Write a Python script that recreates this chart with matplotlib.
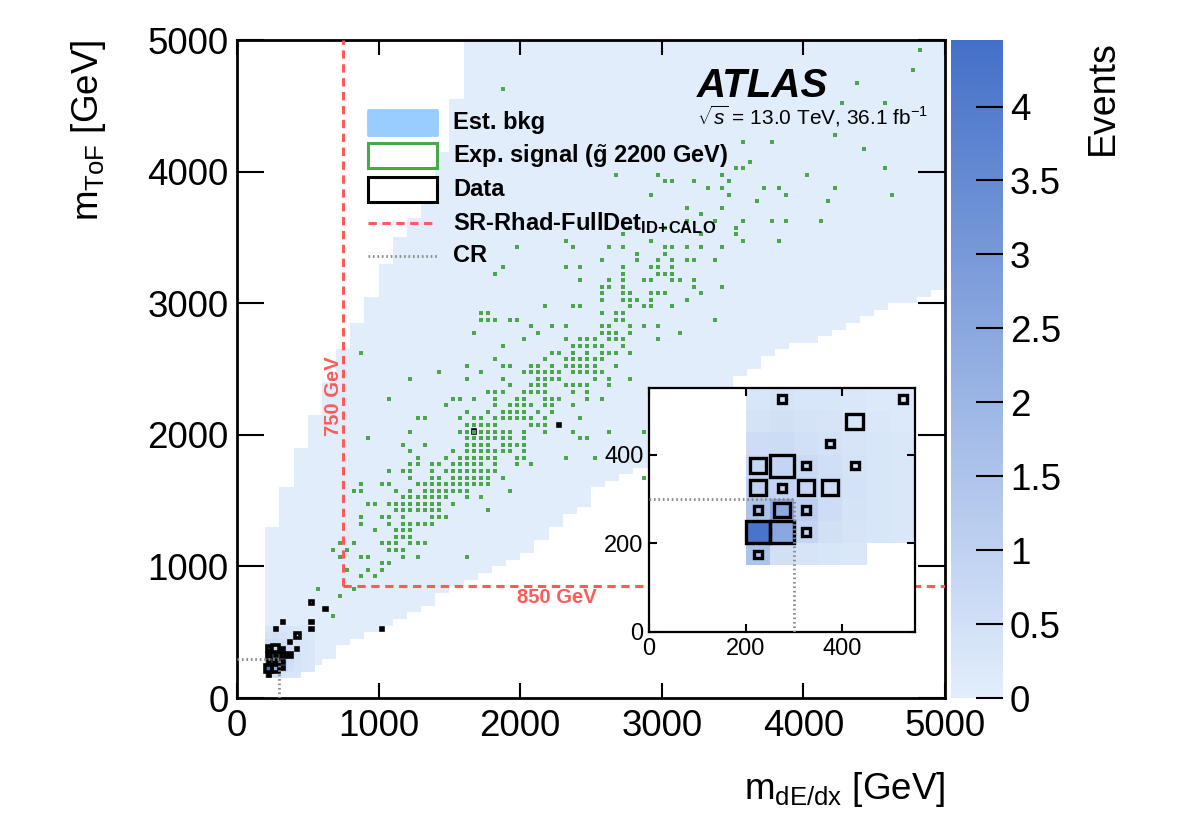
import numpy as np
import matplotlib

matplotlib.use("Agg")
import matplotlib.pyplot as plt
from matplotlib.collections import PatchCollection
from matplotlib.colors import LinearSegmentedColormap
from matplotlib.patches import Rectangle
from matplotlib.ticker import FormatStrFormatter

plt.rcParams["font.family"] = ["Liberation Sans", "DejaVu Sans"]
plt.rcParams["mathtext.fontset"] = "custom"
plt.rcParams["mathtext.rm"] = "Liberation Sans"
plt.rcParams["mathtext.it"] = "Liberation Sans:italic"
plt.rcParams["mathtext.bf"] = "Liberation Sans:bold"
plt.rcParams["lines.scale_dashes"] = False

BIN = 50.0  # GeV, histogram bin width on both axes
NBINS = 100
ZMAX = 4.45

# estimated background envelope, one entry per 100 GeV column of m_dE/dx
bkg_low = [0, 0, 150, 150, 150, 250, 300, 400, 450, 500,
           550, 600, 650, 700, 800, 850, 900, 950, 1000, 1050,
           1100, 1200, 1300, 1400, 1450, 1600, 1650, 1700, 1750, 1950,
           2050, 2150, 2250, 2300, 2350, 2450, 2500, 2600, 2650, 2700,
           2700, 2750, 2800, 2850, 2900, 2950, 3000, 3000, 3050, 3100]
bkg_high = [0, 0, 1300, 1600, 1900, 2150, 2400, 2650, 2850, 3050,
            3300, 3500, 3650, 3850, 4150, 4550, 5000, 5000, 5000, 5000,
            5000, 5000, 5000, 5000, 5000, 5000, 5000, 5000, 5000, 5000,
            5000, 5000, 5000, 5000, 5000, 5000, 5000, 5000, 5000, 5000,
            5000, 5000, 5000, 5000, 5000, 5000, 5000, 5000, 5000, 5000]
bkg_level = 0.05

# low-mass corner of the background (events per bin), x = 200..550, y = 150..550
core_x0 = 200
core_y0 = 150
nan = np.nan
bkg_core = [
    [1.5, 0.5, 0.35, 0.3, 0.25, nan, nan],
    [4.3, 2.5, 0.9, 0.5, 0.35, 0.3, 0.25],
    [1.5, 2.4, 1.1, 0.6, 0.4, 0.3, 0.25],
    [1.0, 0.9, 0.8, 0.6, 0.45, 0.3, 0.25],
    [0.8, 0.9, 0.7, 0.55, 0.4, 0.3, 0.25],
    [0.6, 0.65, 0.5, 0.45, 0.35, 0.3, 0.25],
    [0.4, 0.5, 0.4, 0.35, 0.3, 0.25, 0.2],
    [0.3, 0.4, 0.3, 0.3, 0.25, 0.2, 0.2],
]

# observed data, bin centres (GeV) and counts
data_x = [225, 225, 275, 325, 225, 275, 325, 225, 275, 325, 375, 225, 275,
          325, 425, 375, 425, 275, 525, 325, 525, 625, 525, 1025, 1675, 2275]
data_y = [175, 225, 225, 225, 275, 275, 275, 325, 325, 325, 325, 375, 375,
          375, 375, 425, 475, 525, 525, 575, 575, 675, 725, 525, 2025, 2075]
data_n = [1, 3, 3, 1, 1, 2, 1, 2, 1, 2, 2, 2, 3,
          1, 1, 1, 2, 1, 1, 1, 1, 1, 1, 1, 1, 1]

# expected signal: y-bin index -> x-bin indices of filled bins
signal_rows = {
    12: [13], 15: [14], 16: [11, 16], 18: [17, 19], 19: [15, 18, 20],
    20: [20, 21], 21: [14, 17, 18, 23, 25, 32], 22: [13, 15, 21, 22, 23],
    23: [14, 16, 20, 21, 22, 24, 25, 26], 24: [22, 23, 24], 25: [19, 22, 23, 24],
    26: [17, 21, 23, 24, 25, 26, 27], 27: [17, 20, 21, 23, 27, 28, 29],
    28: [22, 23, 24, 25, 26, 27, 28, 35],
    29: [18, 19, 21, 22, 23, 24, 25, 26, 27, 28, 30],
    30: [23, 24, 25, 26, 27, 28, 29, 32, 34],
    31: [16, 17, 22, 24, 26, 27, 28, 29, 30, 31, 32, 38],
    32: [17, 20, 21, 25, 26, 27, 28, 29, 30, 31, 32, 33, 34, 35],
    33: [24, 27, 28, 30, 31, 32, 33, 34, 35, 37, 57],
    34: [21, 23, 24, 27, 29, 30, 31, 32, 33, 34, 35, 36],
    35: [24, 25, 27, 28, 30, 31, 32, 33, 34, 36, 39, 41],
    36: [25, 29, 31, 32, 33, 34, 35, 36, 39, 40, 46, 50],
    37: [24, 30, 32, 33, 34, 35, 36, 37, 38, 40],
    38: [23, 26, 32, 33, 34, 35, 37, 38, 39, 40],
    39: [18, 32, 33, 34, 35, 36, 37, 38, 40, 48, 49],
    40: [24, 31, 32, 33, 34, 35, 36, 37, 38, 40, 43, 47, 52, 57],
    41: [32, 33, 34, 35, 36, 41, 42, 43],
    42: [25, 26, 31, 33, 34, 36, 37, 38, 39, 40, 41, 43, 48],
    43: [32, 35, 37, 38, 39, 40, 42, 44],
    44: [29, 36, 38, 39, 40, 41, 43, 44, 47],
    45: [21, 30, 31, 33, 36, 39, 40, 43, 44, 45, 49, 51],
    46: [35, 36, 37, 40, 41, 42, 43, 47, 49],
    47: [38, 41, 42, 43, 46, 47, 48, 49, 52],
    48: [24, 32, 37, 42, 43, 44, 45, 50, 52, 55],
    49: [28, 34, 40, 41, 42, 43, 44, 45, 47, 48, 49, 50, 51],
    50: [32, 37, 38, 41, 42, 44, 46, 47, 48, 49, 50, 53],
    51: [36, 43, 46, 47, 48, 49, 50, 51],
    52: [17, 44, 45, 47, 49, 51, 52, 53, 55],
    53: [37, 47, 48, 49, 50, 51, 54],
    54: [40, 46, 48, 49, 50, 52, 53, 54, 59],
    55: [33, 42, 51, 52, 53, 55, 62],
    56: [41, 44, 46, 51, 52, 55, 57, 59],
    57: [34, 35, 36, 38, 39, 53, 54, 67],
    58: [34, 35, 51, 53, 54],
    59: [43, 47, 48, 55, 57, 58, 61],
    60: [51, 54, 55, 56, 58, 63],
    61: [51, 54, 55, 58, 59, 60, 65],
    62: [51, 52, 54, 64, 68],
    63: [48, 52, 54, 57, 58, 61, 62, 64],
    64: [36, 54, 59, 60, 61],
    65: [37, 46, 48, 54, 58, 59, 61],
    66: [51, 56, 59, 61, 63, 64, 67],
    67: [56, 60],
    68: [39, 47, 52, 54, 60, 61, 63, 65, 68],
    69: [46, 58, 71, 76],
    70: [54, 65, 70],
    71: [55, 60, 70],
    72: [63, 67, 71, 75, 77, 82],
    73: [65], 74: [63, 68], 75: [73, 83], 76: [58, 69, 77, 92],
    77: [66, 68, 74, 76, 84], 78: [60, 61, 64, 69], 79: [53, 59, 68, 80],
    80: [70, 71, 91], 81: [72], 83: [88], 84: [71, 75], 85: [84],
    90: [85, 91], 92: [37], 93: [87], 95: [95], 98: [96],
}

sr_x_min = 750   # GeV
sr_y_min = 850   # GeV
cr_max = 300     # GeV

legend_labels = ["Est. bkg", r"Exp. signal ($\tilde{\mathbf{g}}$ 2200 GeV)", "Data",
                 r"SR-Rhad-FullDet$_{\mathbf{ID\!+\!CALO}}$", "CR"]

RED = "#ff5a5a"
GREEN = "#4ca64c"
GREY = "#8a8a8a"
cmap = LinearSegmentedColormap.from_list("bkg", ["#e3eefc", "#4470c8"])


def build_grid():
    z = np.full((NBINS, NBINS), np.nan)
    for c, (lo, hi) in enumerate(zip(bkg_low, bkg_high)):
        if hi <= lo:
            continue
        z[int(lo // BIN):int(hi // BIN), 2 * c:2 * c + 2] = bkg_level
    core = np.array(bkg_core, dtype=float)
    j0, k0 = int(core_y0 // BIN), int(core_x0 // BIN)
    z[j0:j0 + core.shape[0], k0:k0 + core.shape[1]] = core
    return np.ma.masked_invalid(z)


def data_boxes(lw, nmax=3):
    patches = []
    for x, y, n in zip(data_x, data_y, data_n):
        w = BIN * n / nmax
        patches.append(Rectangle((x - w / 2, y - w / 2), w, w))
    return PatchCollection(patches, facecolor="none", edgecolor="black",
                           linewidth=lw, joinstyle="miter", zorder=3)


def draw_cr(axis):
    axis.plot([0, cr_max], [cr_max, cr_max], color=GREY, lw=2.0,
              ls=(0, (1.2, 2.0)), zorder=5)
    axis.plot([cr_max, cr_max], [0, cr_max], color=GREY, lw=2.0,
              ls=(0, (1.2, 2.0)), zorder=5)


fig = plt.figure(figsize=(11.82, 8.32), dpi=100)
ax = fig.add_axes([237 / 1182, 1 - 698 / 832, 708 / 1182, 658 / 832])

edges = np.arange(NBINS + 1) * BIN
grid = build_grid()
mesh = ax.pcolormesh(edges, edges, grid, cmap=cmap, vmin=0, vmax=ZMAX,
                     edgecolors="none", antialiased=False, zorder=0)
ax.add_collection(data_boxes(2.6))

sig_x = [BIN * (k + 0.5) for j, ks in signal_rows.items() for k in ks]
sig_y = [BIN * (j + 0.5) for j, ks in signal_rows.items() for k in ks]
ax.scatter(sig_x, sig_y, marker="s", s=10, c=GREEN, linewidths=0, zorder=4)

ax.plot([sr_x_min, sr_x_min], [sr_y_min, 5000], color=RED, lw=2.2,
        dashes=[6, 4], zorder=5)
ax.plot([sr_x_min, 5000], [sr_y_min, sr_y_min], color=RED, lw=2.2,
        dashes=[6, 4], zorder=5)
draw_cr(ax)

ax.text(678, 2295, "750 GeV", color=RED, fontsize=14.5, fontweight="bold",
        rotation=90, ha="center", va="center", zorder=6)
ax.text(2260, 760, "850 GeV", color=RED, fontsize=14.5, fontweight="bold",
        ha="center", va="center", zorder=6)

ax.set_xlim(0, 5000)
ax.set_ylim(0, 5000)
ax.set_xticks(np.arange(0, 5001, 1000))
ax.set_yticks(np.arange(0, 5001, 1000))
ax.tick_params(axis="x", direction="in", length=10.8, width=1.5, top=True,
               labelsize=26.5, pad=8)
ax.tick_params(axis="y", direction="in", length=19.5, width=1.5, right=True,
               labelsize=26.5, pad=6)
for spine in ax.spines.values():
    spine.set_linewidth(2.0)

# legend, drawn by hand to keep the ROOT look
rows_y = [0.874, 0.824, 0.773, 0.722, 0.672]
sw_x0, sw_w, sw_h = 0.185, 0.0975, 0.038
ax.add_patch(Rectangle((sw_x0, rows_y[0] - sw_h / 2), sw_w, sw_h, transform=ax.transAxes,
                       facecolor="#99ccff", edgecolor="#99ccff", lw=2, joinstyle="round",
                       zorder=7))
ax.add_patch(Rectangle((sw_x0, rows_y[1] - sw_h / 2), sw_w, sw_h, transform=ax.transAxes,
                       facecolor="white", edgecolor=GREEN, lw=2.2, zorder=7))
ax.add_patch(Rectangle((sw_x0, rows_y[2] - sw_h / 2), sw_w, sw_h, transform=ax.transAxes,
                       facecolor="white", edgecolor="black", lw=2.2, zorder=7))
ax.plot([sw_x0, sw_x0 + sw_w], [rows_y[3]] * 2, transform=ax.transAxes, color=RED,
        lw=2.2, dashes=[6, 4], zorder=7)
ax.plot([sw_x0, sw_x0 + sw_w], [rows_y[4]] * 2, transform=ax.transAxes, color=GREY,
        lw=2.0, ls=(0, (1.2, 2.0)), zorder=7)
for y, label in zip(rows_y, legend_labels):
    ax.text(0.305, y, label, transform=ax.transAxes, fontsize=17, fontweight="bold",
            ha="left", va="center", zorder=8)

ax.text(0.65, 0.913, "ATLAS", transform=ax.transAxes, fontsize=29,
        fontweight="bold", style="italic", va="baseline", zorder=8)
ax.text(0.65, 0.871, r"$\sqrt{s}$ = 13.0 TeV, 36.1 fb$^{-1}$", transform=ax.transAxes,
        fontsize=15, va="baseline", zorder=8)

fig.text(88 / 1182, 1 - 40 / 832, r"m$_{\mathrm{ToF}}$ [GeV]", rotation=90,
         ha="center", va="top", fontsize=26.5)
fig.text(945 / 1182, 1 - 770 / 832, r"m$_{\mathrm{dE/dx}}$ [GeV]",
         ha="right", va="top", fontsize=26.5)

# colour bar
cax = fig.add_axes([951 / 1182, 1 - 698 / 832, 52 / 1182, 658 / 832])
cb = fig.colorbar(mesh, cax=cax)
cb.outline.set_visible(False)
cb.set_ticks(np.arange(0, 4.01, 0.5))
cax.yaxis.set_major_formatter(FormatStrFormatter("%g"))
cax.tick_params(direction="in", length=19.5, width=1.5, labelsize=26.5, pad=5)
fig.text(1103 / 1182, 1 - 40 / 832, "Events", rotation=90, ha="center",
         va="top", fontsize=27)

# zoomed inset of the low-mass corner
axi = fig.add_axes([649 / 1182, 1 - 632 / 832, 266 / 1182, 244 / 832])
axi.set_facecolor("white")
axi.pcolormesh(edges, edges, grid, cmap=cmap, vmin=0, vmax=ZMAX,
               edgecolors="none", antialiased=False, zorder=0)
axi.add_collection(data_boxes(2.4))
draw_cr(axi)
axi.set_xlim(0, 550)
axi.set_ylim(0, 550)
axi.set_xticks([0, 200, 400])
axi.set_yticks([0, 200, 400])
axi.tick_params(direction="in", length=6, width=1.5, top=True, right=True,
                labelsize=17, pad=4)
for spine in axi.spines.values():
    spine.set_linewidth(1.6)

fig.savefig("out.png", dpi=100)
